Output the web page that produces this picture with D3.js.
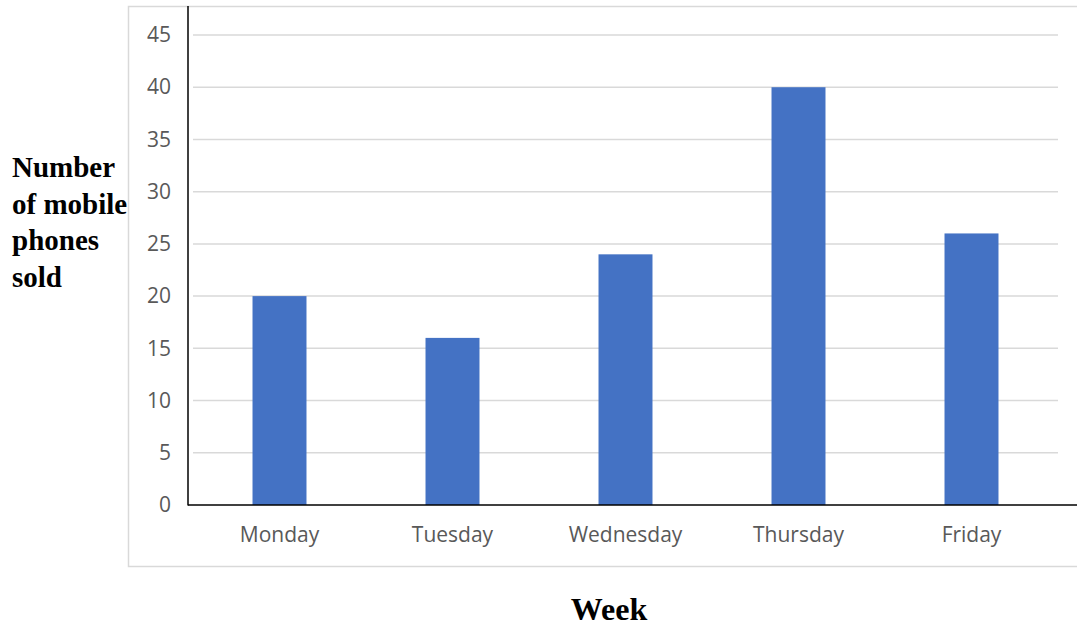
<!DOCTYPE html>
<html><head><meta charset="utf-8">
<script src="https://cdn.jsdelivr.net/npm/d3@7"></script>
<style>body{margin:0;background:#fff}svg{display:block}</style>
</head><body>
<svg id="c" width="1077" height="626"></svg>
<script>
const categories = ["Monday","Tuesday","Wednesday","Thursday","Friday"];
const values = [20,16,24,40,26];
const yTicks = [0,5,10,15,20,25,30,35,40,45];
const yTitleLines = ["Number","of mobile","phones","sold"];
const xTitle = "Week";

const svg = d3.select("#c");
// outer frame
svg.append("rect").attr("x",128.5).attr("y",6.5).attr("width",1000).attr("height",560)
  .attr("fill","#fff").attr("stroke","#d9d9d9").attr("stroke-width",1.5);

const x = d3.scaleBand().domain(categories).range([193,1058]).padding(0);
const y = d3.scaleLinear().domain([0,45]).range([505,35]);

// gridlines
svg.append("g").selectAll("line").data(yTicks.filter(d=>d>0)).join("line")
  .attr("x1",193).attr("x2",1058).attr("y1",d=>y(d)).attr("y2",d=>y(d))
  .attr("stroke","#d9d9d9").attr("stroke-width",1.5);

// bars
const bw = x.bandwidth()*0.312;
svg.append("g").selectAll("rect").data(values).join("rect")
  .attr("x",(d,i)=>x(categories[i])+x.bandwidth()/2-bw/2)
  .attr("width",bw)
  .attr("y",d=>y(d)).attr("height",d=>y(0)-y(d))
  .attr("fill","#4472C4");

// y tick labels
const yAxis = d3.axisLeft(y).tickValues(yTicks).tickSize(0).tickPadding(0);
const gy = svg.append("g").attr("transform","translate(171,0)").call(yAxis);
gy.select(".domain").remove();
gy.selectAll("text").attr("fill","#595959").style("font-family","'Open Sans',sans-serif").style("font-size","21px");

// x tick labels
const xAxis = d3.axisBottom(x).tickSize(0).tickPadding(0);
const gx = svg.append("g").attr("transform","translate(0,527)").call(xAxis);
gx.select(".domain").remove();
gx.selectAll("text").attr("fill","#595959").style("font-family","'Open Sans',sans-serif").style("font-size","21px");

// axis lines
svg.append("line").attr("x1",188).attr("x2",188).attr("y1",6).attr("y2",505.5)
  .attr("stroke","#000").attr("stroke-width",1.5);
svg.append("line").attr("x1",188).attr("x2",1077).attr("y1",505).attr("y2",505)
  .attr("stroke","#000").attr("stroke-width",1.5);

// y title
const yt = svg.append("text").attr("x",12).attr("y",177)
  .style("font-family","'Liberation Serif','Times New Roman',serif").style("font-weight","bold").style("font-size","29px").attr("fill","#000");
yTitleLines.forEach((t,i)=>yt.append("tspan").attr("x",12).attr("y",177+i*36.7).text(t));

// x title
svg.append("text").attr("x",609).attr("y",620).attr("text-anchor","middle")
  .style("font-family","'Liberation Serif','Times New Roman',serif").style("font-weight","bold").style("font-size","32px").attr("fill","#000").text(xTitle);
</script>
</body></html>
